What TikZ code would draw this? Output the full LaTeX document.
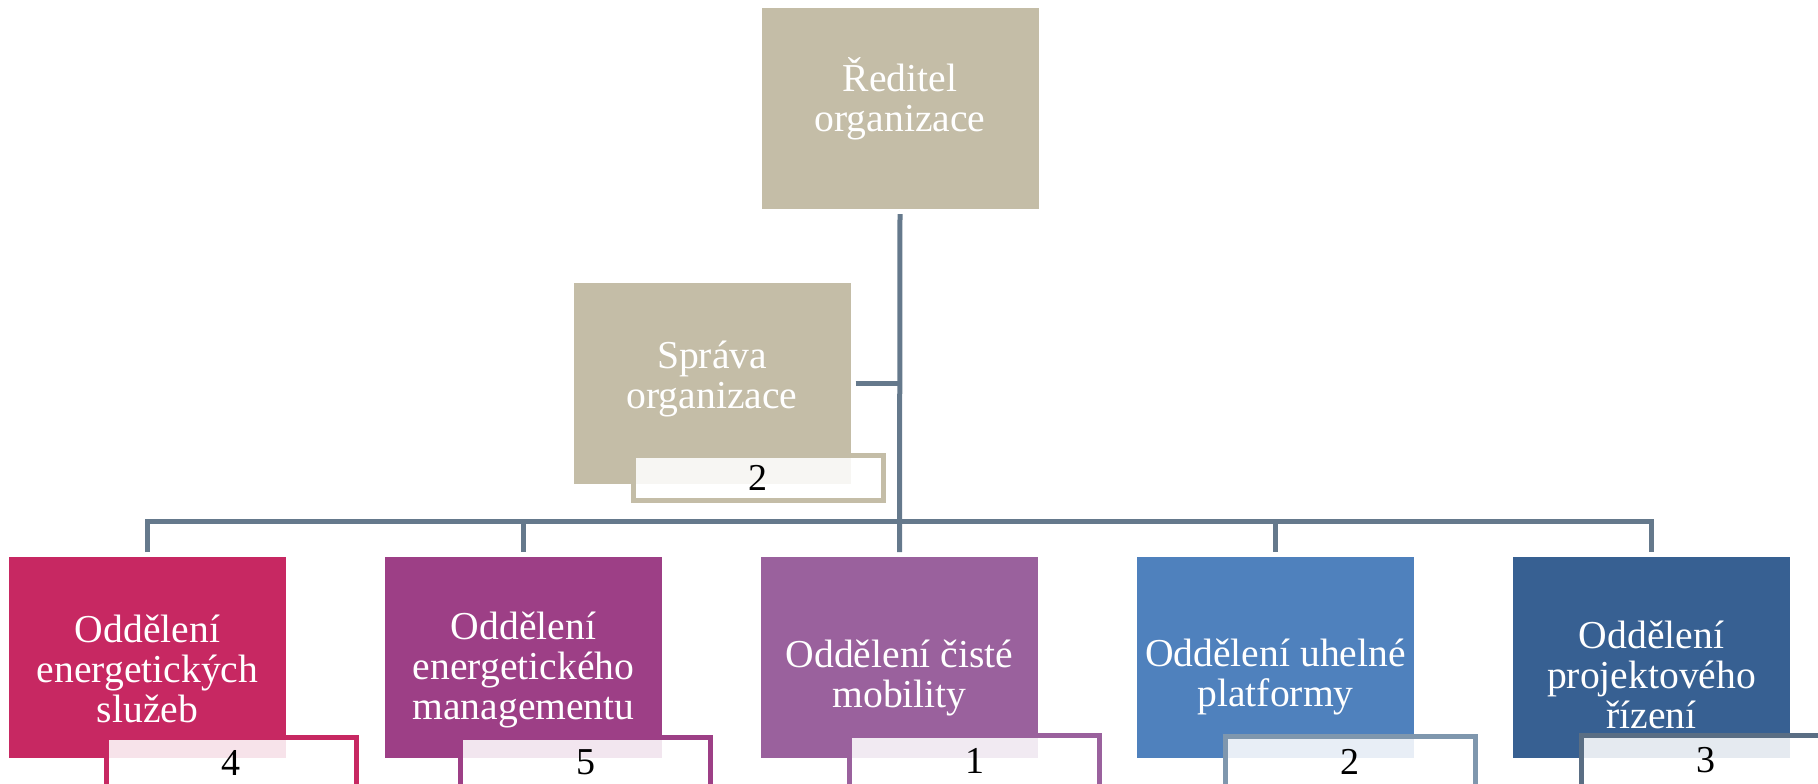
\documentclass[tikz,border=0pt]{standalone}
\usepackage{fontspec}
\setmainfont{Liberation Serif}
\definecolor{bezova}{HTML}{C4BDA7}
\definecolor{linka}{HTML}{65798C}
\definecolor{ruzova}{HTML}{C72862}
\definecolor{fialova}{HTML}{9D3F86}
\definecolor{levandule}{HTML}{9A619D}
\definecolor{modra}{HTML}{4F81BD}
\definecolor{tmavamodra}{HTML}{376092}
\definecolor{sedomodra}{HTML}{7F97AE}
\definecolor{sedotmava}{HTML}{5A6E84}
\begin{document}
\begin{tikzpicture}[x=0.5pt, y=-0.5pt,
  box/.style={fill=#1, minimum width=138.5pt, minimum height=100.5pt,
    inner sep=0pt, outer sep=0pt},
  txt/.style={text=white, align=center, inner sep=0pt,
    font=\fontsize{19.8}{20}\selectfont},
  pocet/.style={draw=#1, line width=2.5pt, fill=white, fill opacity=0.87,
    text opacity=1, text=black, minimum width=125pt, minimum height=22.5pt,
    inner sep=0pt, font=\fontsize{19}{19}\selectfont},
  dole/.style={minimum height=25.5pt},
  conn/.style={draw=linka, line width=2.5pt}]
\useasboundingbox (0,0) rectangle (1818,783);
% vedeni
\node[box=bezova] (reditel) at (900,108.5) {};
\node[box=bezova] (sprava) at (712,383) {};
% oddeleni
\node[box=ruzova] (odd1) at (147.5,657.5) {};
\node[box=fialova] (odd2) at (523.5,657.5) {};
\node[box=levandule] (odd3) at (899.5,657.5) {};
\node[box=modra] (odd4) at (1275.5,657.5) {};
\node[box=tmavamodra] (odd5) at (1651.5,657.5) {};
% spojnice
\coordinate (bus) at (900,521.5);
\draw[conn, shorten <=2.5pt, shorten >=2.5pt] (reditel.south) -- (odd3.north);
\draw[conn, shorten <=2.5pt] (sprava.east) -- (sprava.east -| reditel.south);
\draw[conn, shorten <=2.5pt, shorten >=2.5pt] (odd1.north) |- (bus) -| (odd5.north);
\foreach \k in {odd2,odd4}
  \draw[conn, shorten >=2.5pt] (\k.north |- bus) -- (\k.north);
% texty
\node[txt] (reditel-t) at (900,99) {Ředitel\\organizace};
\node[txt] (sprava-t) at (712,378.5) {Správa\\organizace};
\node[txt] (odd1-t) at (147.5,669) {Oddělení\\energetických\\služeb};
\node[txt] (odd2-t) at (523.5,670) {Oddělení\\energetického\\managementu};
\node[txt] (odd3-t) at (899.5,678) {Oddělení čisté\\mobility};
\node[txt] (odd4-t) at (1275.5,677) {Oddělení uhelné\\platformy};
\node[txt] (odd5-t) at (1651.5,675) {Oddělení\\projektového\\řízení};
% pocty zamestnancu
\node[pocet=bezova] (sprava-n) at (758,478) {2};
\node[pocet=ruzova, dole] (odd1-n) at (231,762.5) {4};
\node[pocet=fialova, dole] (odd2-n) at (585.5,762.5) {5};
\node[pocet=levandule, dole] (odd3-n) at (974.5,760.5) {1};
\node[pocet=sedomodra, dole] (odd4-n) at (1350,761.5) {2};
\node[pocet=sedotmava, dole] (odd5-n) at (1706,760.5) {3};
\end{tikzpicture}
\end{document}
